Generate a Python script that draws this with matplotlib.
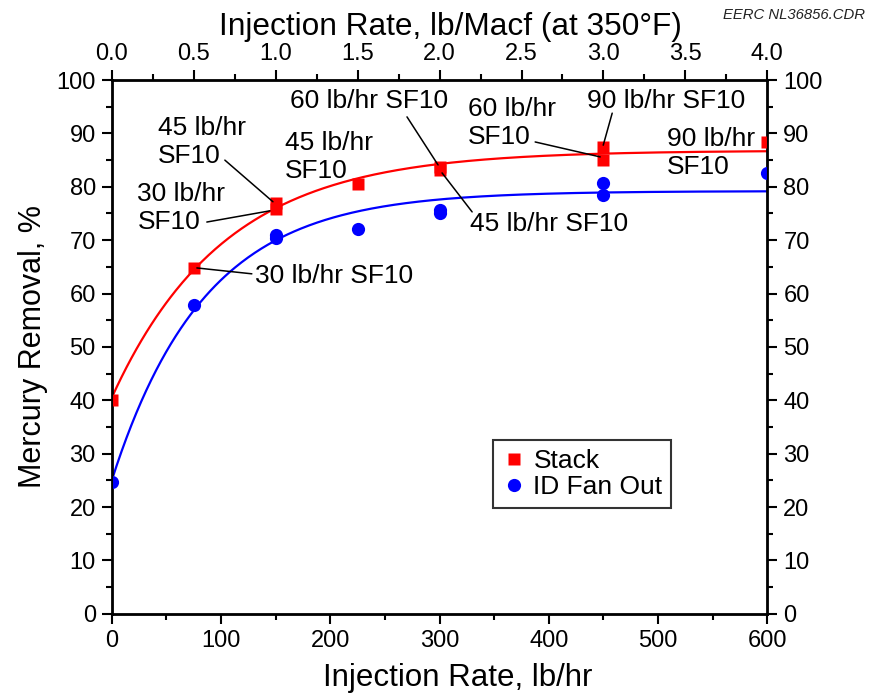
import numpy as np
import matplotlib
matplotlib.use("Agg")
import matplotlib.pyplot as plt
from matplotlib.ticker import MultipleLocator, FormatStrFormatter

plt.rcParams['font.family'] = ['Liberation Sans', 'DejaVu Sans']

# Measured mercury removal vs sorbent injection rate
stack_rate = [0, 75, 150, 150, 225, 300, 300, 450, 450, 600]
stack_removal = [40.0, 64.8, 77.0, 75.8, 80.6, 83.8, 83.2, 87.4, 85.0, 88.3]

fan_rate = [0, 75, 150, 150, 225, 300, 300, 450, 450, 600]
fan_removal = [24.7, 57.9, 71.0, 70.4, 72.1, 75.6, 75.0, 80.8, 78.4, 82.6]

# Saturation-curve fits: y = top - (top - start) * exp(-k * x)
stack_fit = dict(top=86.8, start=40.5, k=0.0097)
fan_fit = dict(top=79.2, start=25.0, k=0.0118)

# Sorbent labels: text, upper-left corner, leader start, leader end (data units)
notes = [
    ("45 lb/hr\nSF10", (42, 93.3), (103.5, 85.0), (147.5, 77.2)),
    ("30 lb/hr\nSF10", (23.5, 80.9), (87, 73.4), (144.7, 75.5)),
    ("30 lb/hr SF10", (131, 65.6), (128.2, 63.7), (77.9, 64.8)),
    ("45 lb/hr\nSF10", (158.5, 90.5), None, None),
    ("60 lb/hr SF10", (163, 98.3), (270.2, 93.1), (298.6, 84.1)),
    ("45 lb/hr SF10", (328, 75.3), (329.8, 75.3), (302.3, 82.6)),
    ("60 lb/hr\nSF10", (326, 96.8), (387.5, 88.4), (447, 85.6)),
    ("90 lb/hr SF10", (435, 98.3), (458, 93.8), (449.8, 87.8)),
    ("90 lb/hr\nSF10", (508, 91.2), None, None),
]

fig = plt.figure(figsize=(8.8, 6.96), dpi=100)
ax = fig.add_axes([0.127, 0.118, 0.745, 0.767])

xs = np.linspace(0, 600, 400)
for fit, color in ((stack_fit, '#ff0000'), (fan_fit, '#0000ff')):
    ys = fit['top'] - (fit['top'] - fit['start']) * np.exp(-fit['k'] * xs)
    ax.plot(xs, ys, color=color, lw=1.6, zorder=2)

ax.plot(stack_rate, stack_removal, 's', color='#ff0000', ms=8.5, mec='none',
        label='Stack', zorder=3)
ax.plot(fan_rate, fan_removal, 'o', color='#0000ff', ms=9.5, mec='none',
        label='ID Fan Out', zorder=3)

for text, pos, start, end in notes:
    ax.text(pos[0], pos[1], text, fontsize=19, ha='left', va='top',
            linespacing=1.2, zorder=4)
    if start is not None:
        ax.annotate('', xy=end, xytext=start,
                    arrowprops=dict(arrowstyle='-', color='black', lw=1.1,
                                    shrinkA=0, shrinkB=0), zorder=4)

ax.set_xlim(0, 600)
ax.set_ylim(0, 100)
ax.xaxis.set_major_locator(MultipleLocator(100))
ax.xaxis.set_minor_locator(MultipleLocator(50))
ax.yaxis.set_major_locator(MultipleLocator(10))
ax.yaxis.set_minor_locator(MultipleLocator(5))
ax.tick_params(which='both', direction='out', width=1.5, labelsize=17,
               right=True, labelright=True, pad=4)
ax.tick_params(which='major', length=7.5)
ax.tick_params(which='minor', length=4.5)
for sp in ax.spines.values():
    sp.set_linewidth(2.0)

ax.set_xlabel('Injection Rate, lb/hr', fontsize=22.5, labelpad=8)
ax.xaxis.label.set_x(0.527)
ax.set_ylabel('Mercury Removal, %', fontsize=22, labelpad=6)

top = ax.twiny()
top.set_xlim(0, 4.0)
top.xaxis.set_major_locator(MultipleLocator(0.5))
top.xaxis.set_minor_locator(MultipleLocator(0.25))
top.xaxis.set_major_formatter(FormatStrFormatter('%.1f'))
top.tick_params(which='both', direction='out', width=1.5, labelsize=17, pad=3)
top.tick_params(which='major', length=7.5)
top.tick_params(which='minor', length=4.5)
top.set_xlabel('Injection Rate, lb/Macf (at 350°F)', fontsize=22.8, labelpad=6)
top.xaxis.label.set_x(0.517)

leg = ax.legend(loc='lower left', bbox_to_anchor=(0.582, 0.1985), fontsize=19,
                frameon=True, fancybox=False, handlelength=0.9,
                handletextpad=0.3, borderpad=0.32, labelspacing=0.1,
                borderaxespad=0)
leg.get_frame().set_edgecolor('black')
leg.get_frame().set_linewidth(1.5)

fig.text(0.983, 0.978, 'EERC NL36856.CDR', fontsize=10.7, style='italic',
         ha='right', va='center', color='#222222')

fig.savefig('out.png', dpi=100)
